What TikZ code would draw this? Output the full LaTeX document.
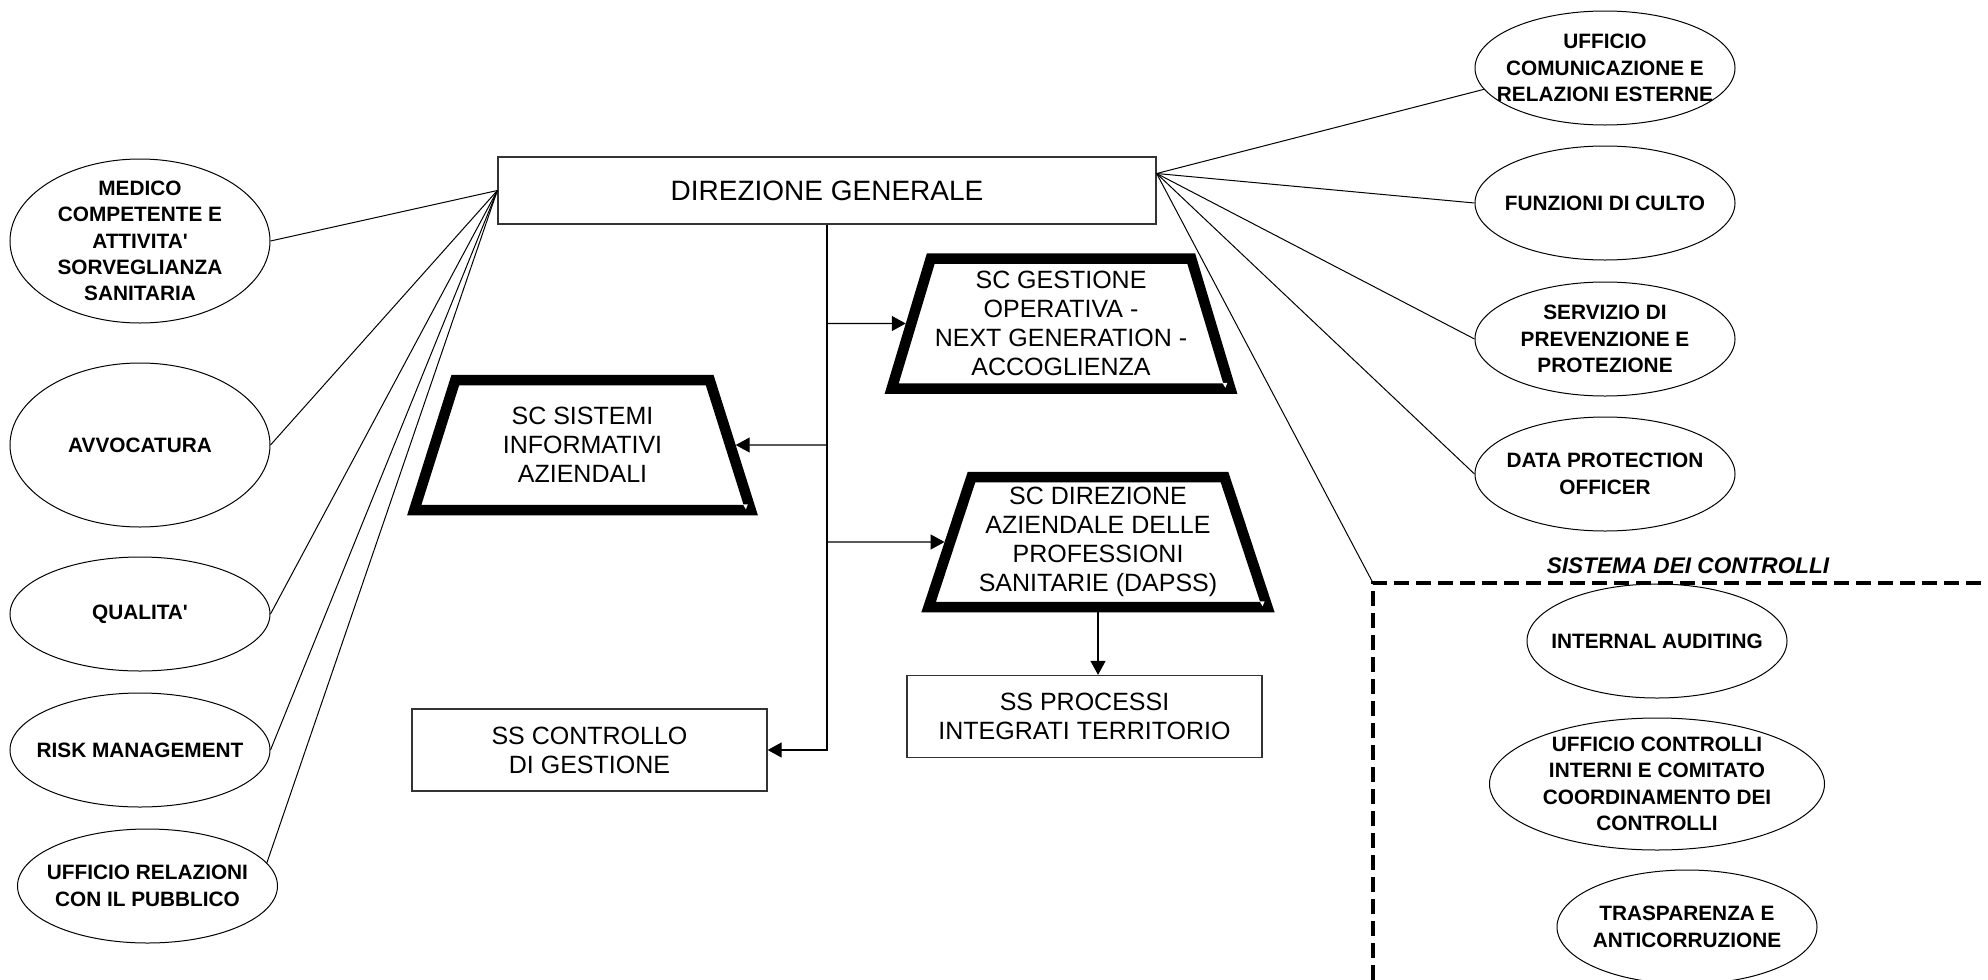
\documentclass[tikz,border=0pt]{standalone}
\usepackage{fontspec}
\setmainfont{Liberation Sans}[Ligatures=TeXOff]
\usepackage{tikz}
\usetikzlibrary{shapes.geometric}
\usetikzlibrary{arrows.meta}
\usetikzlibrary{calc}

\tikzset{
  ell/.style={ellipse,draw,line width=0.5pt,inner sep=-12pt,minimum width=130pt,minimum height=57pt,align=center,font=\bfseries\fontsize{10.4}{13.2}\selectfont},
  box/.style={rectangle,draw=black!80,line width=0.65pt,minimum width=177.5pt,minimum height=41pt,align=center,font=\fontsize{12.5}{14.5}\selectfont},
  trap/.style={trapezium,draw,line width=5.25pt,trapezium left angle=67,trapezium right angle=67,trapezium stretches=true,minimum width=169.5pt,minimum height=65pt,inner sep=-6pt,align=center,font=\fontsize{12.5}{14.5}\selectfont},
  arr/.style={-{Triangle[length=7pt,width=7.5pt]},line width=0.6pt},
  link/.style={line width=0.5pt},
  ctrl/.style={dash pattern=on 7.5pt off 3.5pt,line width=1.7pt}
}

\begin{document}
\begin{tikzpicture}[x=0.5pt,y=-0.5pt]
  \useasboundingbox (0,0) rectangle (1988,980);
  % vertice
  \node[box,minimum width=329pt,minimum height=33.5pt,font=\fontsize{14}{17}\selectfont] (dg) at (827,190.5) {DIREZIONE GENERALE};
  \coordinate (dgr) at ([yshift=8.5pt]dg.east);
  % strutture
  \node[trap] (ges) at (1061,323.5) {SC GESTIONE\\OPERATIVA -\\NEXT GENERATION -\\ACCOGLIENZA};
  \node[trap] (sis) at (582.5,445) {SC SISTEMI\\INFORMATIVI\\AZIENDALI};
  \node[trap] (dap) at (1098,542) {SC DIREZIONE\\AZIENDALE DELLE\\PROFESSIONI\\SANITARIE (DAPSS)};
  \node[box] (spi) at (1084.5,716.5) {SS PROCESSI\\INTEGRATI TERRITORIO};
  \node[box] (ssc) at (589.5,750) {SS CONTROLLO\\DI GESTIONE};
  \foreach \n in {ges,sis,dap}
    \fill[white] ([shift={(-15,-11)}]\n.bottom right corner) -- ++(5,0) -- ++(-2,5) -- cycle;
  \draw[arr] (dg.south) |- (ssc.east);
  \draw[arr] (dg.south |- ges) -- (ges);
  \draw[arr] (dg.south |- sis) -- (sis);
  \draw[arr] (dg.south |- dap) -- (dap);
  \draw[arr] (dap.south) -- (dap.south |- spi.north);
  % staff a sinistra
  \node[ell,minimum height=82pt] (med) at (140,241) {MEDICO\\COMPETENTE E\\ATTIVITA'\\SORVEGLIANZA\\SANITARIA};
  \node[ell,minimum height=82pt] (avv) at (140,445) {AVVOCATURA};
  \node[ell] (qua) at (140,614) {QUALITA'};
  \node[ell] (risk) at (140,750) {RISK MANAGEMENT};
  \node[ell] (urp) at (147.5,886) {UFFICIO RELAZIONI\\CON IL PUBBLICO};
  \foreach \n in {med,avv,qua,risk}
    \draw[link] (dg.west) -- (\n.east);
  \draw[link] (dg.west) -- (urp.11);
  % staff a destra
  \node[ell] (uff) at (1605,68) {UFFICIO\\COMUNICAZIONE E\\RELAZIONI ESTERNE};
  \node[ell] (cul) at (1605,203) {FUNZIONI DI CULTO};
  \node[ell] (spp) at (1605,339) {SERVIZIO DI\\PREVENZIONE E\\PROTEZIONE};
  \node[ell] (dpo) at (1605,474) {DATA PROTECTION\\OFFICER};
  \draw[link] (dgr) -- (uff.190);
  \foreach \n in {cul,spp,dpo}
    \draw[link] (dgr) -- (\n.west);
  % sistema dei controlli
  \coordinate (sysc) at (1373,583);
  \draw[ctrl] (1373,980) -- (sysc) -- (1988,583);
  \draw[link] (dgr) -- (sysc);
  \node[font=\bfseries\itshape\fontsize{11.3}{13}\selectfont] (systit) at (1688,566) {SISTEMA DEI CONTROLLI};
  \node[ell] (ia) at (1657,641) {INTERNAL AUDITING};
  \node[ell,minimum width=167.5pt,minimum height=66pt] (ucic) at (1657,784) {UFFICIO CONTROLLI\\INTERNI E COMITATO\\COORDINAMENTO DEI\\CONTROLLI};
  \node[ell] (tra) at (1687,927) {TRASPARENZA E\\ANTICORRUZIONE};
\end{tikzpicture}
\end{document}
